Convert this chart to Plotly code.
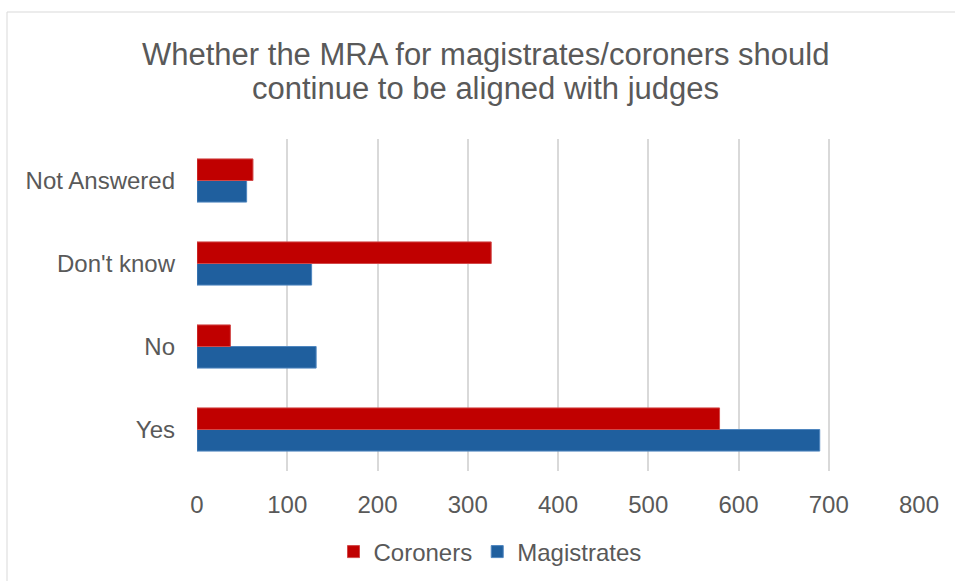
import plotly.graph_objects as go

categories = ["Yes", "No", "Don't know", "Not Answered"]
coroners = [579, 37, 326, 62]
magistrates = [690, 132, 127, 55]
x_ticks = [0, 100, 200, 300, 400, 500, 600, 700, 800]
title_lines = ["Whether the MRA for magistrates/coroners should",
               "continue to be aligned with judges"]

W, H = 955, 581
L, R, T, B = 197, 36, 139, 110
PW, PH = W - L - R, H - T - B


def px(x):
    return (x - L) / PW


def py(y):
    return 1 + (T - y) / PH


fig = go.Figure()
# first trace sits lower inside each group in horizontal bars
fig.add_trace(go.Bar(y=categories, x=magistrates, name="Magistrates", orientation="h",
                     marker=dict(color="#1f5f9e", line=dict(color="#4f86bf", width=1))))
fig.add_trace(go.Bar(y=categories, x=coroners, name="Coroners", orientation="h",
                     marker=dict(color="#c00000", line=dict(color="#d24848", width=1))))

fig.update_layout(
    width=W, height=H,
    margin=dict(l=L, r=R, t=T, b=B, autoexpand=False),
    paper_bgcolor="white", plot_bgcolor="white",
    font=dict(family="Liberation Sans, Arial", color="#595959", size=24),
    barmode="group", bargap=0.48, bargroupgap=0,
    legend=dict(orientation="h", xref="container", yref="container",
                x=490 / W, xanchor="center", y=1 - 552 / H, yanchor="middle",
                traceorder="reversed", font=dict(size=24, color="#595959"), itemwidth=30),
    showlegend=True,
)
for i, line in enumerate(title_lines):
    fig.add_annotation(text=line, xref="paper", yref="paper", x=px(485), y=py([55, 89][i]),
                       xanchor="center", yanchor="middle", showarrow=False,
                       font=dict(size=31, color="#595959"))

fig.update_xaxes(range=[0, 800], tickvals=x_ticks, showgrid=True, gridcolor="#d9d9d9", gridwidth=1.5,
                 zeroline=False, showline=False, ticklabelstandoff=17)
fig.update_yaxes(showgrid=False, zeroline=False, showline=False, ticklabelstandoff=21)

# outer chart border (left and top edges visible)
fig.add_shape(type="rect", xref="paper", yref="paper",
              x0=px(7), x1=px(1000), y0=py(700), y1=py(12),
              line=dict(color="#d9d9d9", width=1), fillcolor="rgba(0,0,0,0)", layer="below")

fig.write_html("out.html", config={"displayModeBar": False},
               post_script="document.body.style.margin='0px';")
